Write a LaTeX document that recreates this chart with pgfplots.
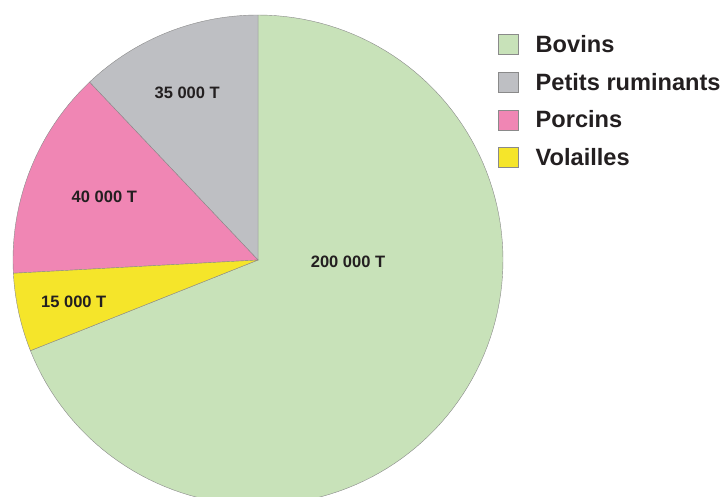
\documentclass[border=0pt]{standalone}
\usepackage{pgfplots}
\pgfplotsset{compat=1.18}
\usepgfplotslibrary{polar}
\usepackage{fontspec}
\setmainfont{Liberation Sans}
\definecolor{cBov}{HTML}{C8E2B9}
\definecolor{cPet}{HTML}{BEBFC3}
\definecolor{cPor}{HTML}{F086B4}
\definecolor{cVol}{HTML}{F5E52A}
\definecolor{cTxt}{HTML}{231F20}
\definecolor{cEdge}{HTML}{8A8A8A}
% values in thousand tonnes
\pgfmathsetmacro{\vB}{200}
\pgfmathsetmacro{\vP}{35}
\pgfmathsetmacro{\vO}{40}
\pgfmathsetmacro{\vV}{15}
\pgfmathsetmacro{\tot}{\vB+\vP+\vO+\vV}
\pgfmathsetmacro{\aA}{90}
\pgfmathsetmacro{\aB}{\aA+360*\vP/\tot}
\pgfmathsetmacro{\aC}{\aB+360*\vO/\tot}
\pgfmathsetmacro{\aD}{\aC+360*\vV/\tot}
\pgfmathsetmacro{\aE}{450}
\begin{document}
\begin{tikzpicture}
\useasboundingbox (0,0) rectangle (722pt,-497pt);
\begin{polaraxis}[
  at={(258pt,-260pt)}, anchor=center,
  scale only axis, width=490pt, height=490pt,
  xmin=0, xmax=360, ymin=0, ymax=245,
  hide axis, clip=false,
  legend cell align=left,
  legend style={at={(0.99,0.963)}, anchor=north west, draw=none,
    font=\fontsize{23.6}{27}\selectfont\bfseries\color{cTxt},
    row sep=15pt, inner sep=0pt,
    /tikz/every odd column/.append style={column sep=15pt}},
  legend image code/.code={\path[#1, draw=cEdge, line width=0.4pt] (0pt,-10pt) rectangle (20pt,10pt);},
]
\addplot[fill=cBov, draw=cEdge, line width=0.4pt, domain=\aD:\aE, samples=120] {245} -- (axis cs:0,0) -- cycle;
\addlegendentry{Bovins}
\addplot[fill=cPet, draw=cEdge, line width=0.4pt, domain=\aA:\aB, samples=40] {245} -- (axis cs:0,0) -- cycle;
\addlegendentry{Petits ruminants}
\addplot[fill=cPor, draw=cEdge, line width=0.4pt, domain=\aB:\aC, samples=40] {245} -- (axis cs:0,0) -- cycle;
\addlegendentry{Porcins}
\addplot[fill=cVol, draw=cEdge, line width=0.4pt, domain=\aC:\aD, samples=20] {245} -- (axis cs:0,0) -- cycle;
\addlegendentry{Volailles}
\begin{scope}[every node/.style={font=\fontsize{16.5}{18}\selectfont\bfseries, text=cTxt}]
\node at (axis cs:-1,90) {200 000 T};
\node at (axis cs:112.9,182) {35 000 T};
\node at (axis cs:157.8,166) {40 000 T};
\node at (axis cs:192.9,189) {15 000 T};
\end{scope}
\end{polaraxis}
\end{tikzpicture}
\end{document}
